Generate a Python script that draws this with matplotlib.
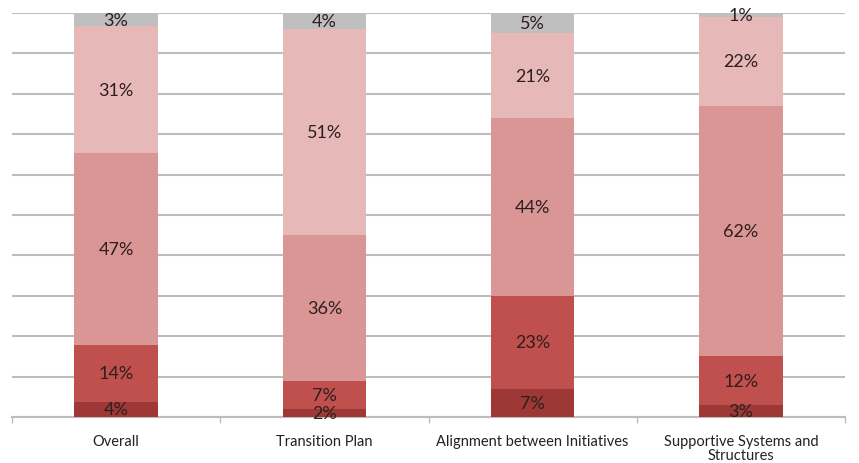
import matplotlib
matplotlib.use("Agg")
import matplotlib.pyplot as plt
import numpy as np

categories = ["Overall", "Transition Plan", "Alignment between Initiatives", "Supportive Systems and\nStructures"]
seg1 = [3.8, 2, 7, 3]
seg2 = [14.1, 7, 23, 12]
seg3 = [47.4, 36, 44, 62]
seg4 = [31.4, 51, 21, 22]
seg5 = [3.3, 4, 5, 1]
series = [seg1, seg2, seg3, seg4, seg5]
colors = ["#9E3836", "#C0504D", "#D99694", "#E6B9B8", "#BFBFBF"]

plt.rcParams['font.family'] = ['Lato', 'DejaVu Sans']
fig = plt.figure(figsize=(8.59, 4.64), dpi=100)
ax = fig.add_axes([12/859, 1-418/464, (845-12)/859, (418-14)/464])

x = np.arange(len(categories))
bottom = np.zeros(len(categories))
for vals, c in zip(series, colors):
    vals = np.array(vals, dtype=float)
    ax.bar(x, vals, bottom=bottom, width=0.4, color=c, zorder=3, linewidth=0)
    for xi, b, v in zip(x, bottom, vals):
        ax.text(xi, b + v/2, f"{int(round(v))}%", ha="center", va="center",
                fontsize=13, color="#2e1e1e", zorder=4)
    bottom += vals

ax.set_xlim(-0.5, len(categories) - 0.5)
ax.set_ylim(0, 100)
ax.set_yticks(np.arange(0, 101, 10))
ax.yaxis.grid(True, color="#BDBDBD", linewidth=1.5, zorder=0)
ax.tick_params(axis="y", left=False, labelleft=False)
for s in ["left", "right", "top"]:
    ax.spines[s].set_visible(False)
ax.spines["bottom"].set_color("#BDBDBD")
ax.spines["bottom"].set_linewidth(1.5)
ax.spines["bottom"].set_zorder(2)

ax.set_xticks(x)
ax.set_xticklabels(categories, fontsize=10.5, color="#222222", linespacing=1.05)
ax.tick_params(axis="x", length=0, pad=12)
ax.set_xticks(np.arange(-0.5, len(categories), 1), minor=True)
ax.tick_params(axis="x", which="minor", length=4, color="#BDBDBD", width=1)

fig.savefig("out.png", dpi=100)
